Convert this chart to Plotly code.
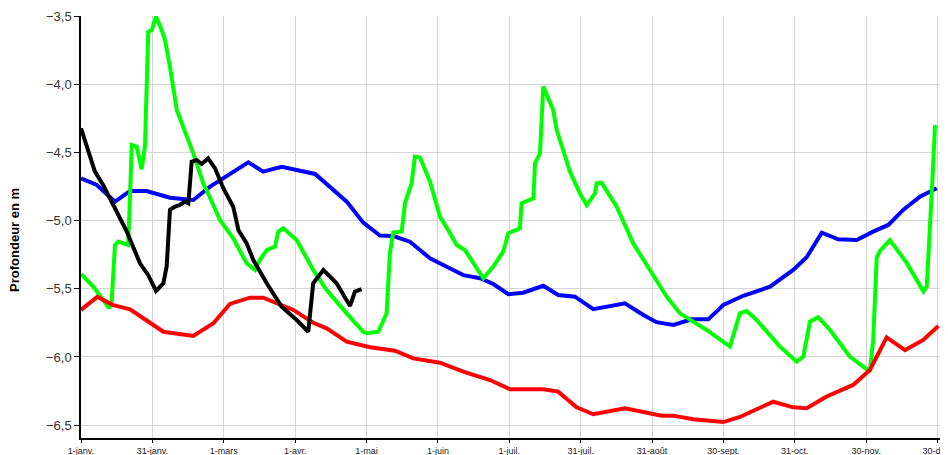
import plotly.graph_objects as go

# day of year (0 = 1-janv.) and depth in m
red_day = [0, 6.9, 13.7, 20.8, 26.4, 34.9, 47.6, 56.1, 63.1, 71.6, 77.2, 90, 98.4, 104.1,
           112.6, 118.2, 122.5, 133, 140.8, 152.1, 162, 173.3, 181.8, 195.9, 202.2, 210,
           217.1, 230.5, 246, 251, 259.4, 272.2, 279.2, 293.3, 301.8, 307.5, 316, 327.2,
           334.3, 341.4, 349.2, 356.9, 363.3]
red_val = [-5.655, -5.56, -5.62, -5.65, -5.716, -5.815, -5.846, -5.753, -5.611, -5.565, -5.565,
           -5.655, -5.749, -5.79, -5.888, -5.912, -5.929, -5.954, -6.01, -6.042, -6.108, -6.169,
           -6.237, -6.237, -6.254, -6.369, -6.42, -6.376, -6.43, -6.43, -6.457, -6.477, -6.44,
           -6.328, -6.369, -6.376, -6.29, -6.205, -6.095, -5.856, -5.949, -5.875, -5.773]

blue_day = [0, 6.7, 14.4, 20.8, 27.8, 37.7, 47.6, 54.7, 70.9, 77.2, 85, 99.2, 112.6, 119.6,
            126.7, 132.3, 139.4, 147.9, 153.5, 162, 169.1, 174.7, 181.1, 187.4, 195.9, 202.2,
            209.3, 217.1, 230.5, 238.3, 243.9, 251, 258.8, 265.8, 272.2, 280.6, 292, 301.8,
            307.5, 313.9, 320.9, 328.7, 335.7, 342.1, 348.4, 355.5, 362.6]
blue_val = [-4.69, -4.739, -4.861, -4.783, -4.783, -4.832, -4.849, -4.751, -4.573, -4.641,
            -4.605, -4.658, -4.861, -5.015, -5.11, -5.113, -5.155, -5.277, -5.326, -5.40,
            -5.423, -5.465, -5.54, -5.529, -5.478, -5.546, -5.558, -5.65, -5.606, -5.692,
            -5.745, -5.765, -5.724, -5.724, -5.619, -5.551, -5.485, -5.362, -5.269, -5.089,
            -5.137, -5.142, -5.081, -5.032, -4.922, -4.825, -4.763]

green_day = [0, 5.2, 9.4, 12, 13, 14.4, 15.8, 20, 20.6, 21.5, 23.6, 25.7, 27.1, 27.8, 28.5,
             30, 31.8, 34.2, 35.6, 37.7, 40.6, 43.3, 47.6, 51.8, 53.2, 58.9, 64.5, 70.2, 73.7,
             75.8, 78.7, 82.2, 83.6, 85.7, 91.4, 98.4, 104.1, 112.6, 119.6, 121.1, 126, 129.5,
             130.9, 132.3, 135.9, 137.3, 140.1, 141.5, 143.6, 147.9, 152.1, 155.6, 159.2, 162.7,
             167, 170.5, 174.7, 178.9, 181.1, 186, 186.7, 191.7, 192.4, 194.5, 195.9, 200.1,
             201.6, 204.4, 207.2, 211.4, 214.3, 217.8, 218.5, 220.6, 227, 234, 241.1, 242.5,
             248.2, 253.8, 265.1, 275, 279.2, 282.1, 286.3, 296.2, 303.3, 306.1, 308.9, 312.4,
             317.4, 325.8, 334.3, 335.7, 337.2, 338.6, 342.8, 349.9, 357, 358.4, 359.7, 361.1,
             361.9]
green_val = [-5.391, -5.484, -5.582, -5.643, -5.594, -5.179, -5.154, -5.179, -4.9, -4.446,
             -4.458, -4.624, -4.458, -4.116, -3.615, -3.603, -3.505, -3.603, -3.676, -3.872,
             -4.189, -4.312, -4.507, -4.727, -4.776, -4.996, -5.13, -5.313, -5.362, -5.289,
             -5.216, -5.191, -5.081, -5.057, -5.142, -5.362, -5.509, -5.68, -5.815, -5.826,
             -5.815, -5.68, -5.24, -5.086, -5.081, -4.873, -4.727, -4.532, -4.536, -4.715,
             -4.971, -5.069, -5.179, -5.216, -5.337, -5.423, -5.337, -5.228, -5.093, -5.057,
             -4.873, -4.837, -4.58, -4.507, -4.018, -4.189, -4.336, -4.482, -4.641, -4.80,
             -4.886, -4.80, -4.727, -4.722, -4.898, -5.167, -5.362, -5.411, -5.558, -5.68,
             -5.802, -5.924, -5.68, -5.663, -5.729, -5.924, -6.034, -5.997, -5.741, -5.709,
             -5.802, -5.997, -6.107, -5.875, -5.271, -5.222, -5.143, -5.31, -5.52, -5.484,
             -5.093, -4.6, -4.30]

black_day = [0, 3.1, 5.9, 9.4, 13.7, 19.4, 25, 28.5, 31.8, 34.9, 36.3, 37.7, 39.8, 41.9,
             44.1, 45.5, 46.9, 49, 51.1, 53.9, 56.8, 60.3, 64.5, 66.7, 70.2, 73, 78.7, 85,
             91.4, 96.3, 98.4, 102.7, 108.3, 114, 116.1, 118.9]
black_val = [-4.323, -4.482, -4.641, -4.739, -4.886, -5.081, -5.313, -5.40, -5.516, -5.46,
             -5.337, -4.922, -4.898, -4.886, -4.861, -4.873, -4.568, -4.556, -4.585, -4.544,
             -4.617, -4.763, -4.898, -5.069, -5.167, -5.289, -5.46, -5.631, -5.729, -5.815,
             -5.46, -5.362, -5.46, -5.626, -5.521, -5.503]

tick_days = [i * 30.25 for i in range(13)]
tick_labels = ["1-janv.", "31-janv.", "1-mars", "1-avr.", "1-mai", "1-juin", "1-juil.",
               "31-juil.", "31-août", "30-sept.", "31-oct.", "30-nov.", "30-déc."]

fig = go.Figure()

for days, vals, color in [
    (blue_day, blue_val, "#0000ff"),
    (green_day, green_val, "#00ff00"),
    (red_day, red_val, "#ff0000"),
    (black_day, black_val, "#000000"),
]:
    fig.add_trace(
        go.Scatter(
            x=days,
            y=vals,
            mode="lines",
            line=dict(color=color, width=4),
            showlegend=False,
        )
    )

fig.add_annotation(
    text="<b>Profondeur en m</b>",
    textangle=-90,
    xref="paper",
    yref="paper",
    x=-0.077,
    y=0.47,
    xanchor="center",
    yanchor="middle",
    showarrow=False,
    font=dict(family="Liberation Sans Narrow, Arial", size=13, color="#000000"),
)

# page body adds 8px offset; figure sized to fit the window
fig.update_layout(
    width=940,
    height=447,
    margin=dict(t=8, b=17, l=73, r=0),
    plot_bgcolor="white",
    paper_bgcolor="white",
    separators=", ",
    showlegend=False,
    xaxis=dict(
        range=[0, 367.4],
        tickvals=tick_days,
        ticktext=tick_labels,
        ticklabeloverflow="allow",
        showgrid=True,
        gridcolor="#d4d4d4",
        gridwidth=1,
        showline=True,
        linecolor="black",
        linewidth=1.5,
        ticks="outside",
        ticklen=3,
        tickcolor="black",
        tickfont=dict(family="Arial", size=9, color="#222222"),
        zeroline=False,
        automargin=False,
    ),
    yaxis=dict(
        range=[-6.594, -3.5],
        tickvals=[-3.5, -4.0, -4.5, -5.0, -5.5, -6.0, -6.5],
        tickformat=".1f",
        showgrid=True,
        gridcolor="#d4d4d4",
        gridwidth=1,
        showline=True,
        linecolor="black",
        linewidth=1.5,
        ticks="outside",
        ticklen=5,
        tickcolor="black",
        tickfont=dict(family="Arial", size=13, color="#333333"),
        zeroline=False,
        automargin=False,
    ),
)

fig.write_html("out.html")
